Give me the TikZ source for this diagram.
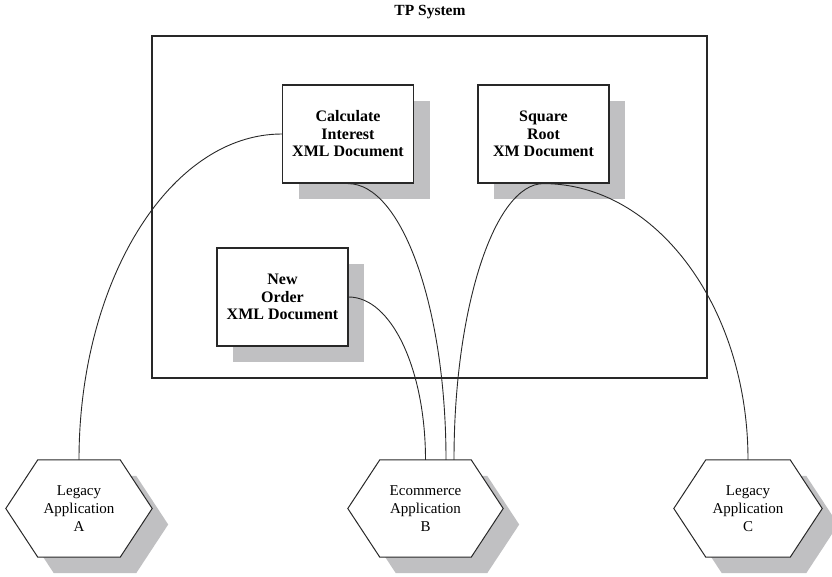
\documentclass[tikz,border=0pt]{standalone}
\usepackage{fontspec}
\setmainfont{Liberation Serif}
\usetikzlibrary{shadows,backgrounds,calc}
\definecolor{shadowgray}{RGB}{192,192,194}
\definecolor{linegray}{RGB}{40,40,40}
\tikzset{
  docbox/.style={draw=linegray, line width=1.2pt, fill=white,
    minimum width=131pt, minimum height=98pt, inner sep=0pt, align=center,
    font=\fontsize{16}{17.5}\selectfont\bfseries,
    drop shadow={shadow xshift=16pt, shadow yshift=-16pt, fill=shadowgray, opacity=1}},
  appnode/.style={minimum height=97pt, inner sep=0pt, align=center,
    font=\fontsize{15}{18}\selectfont},
  hexshape/.style={draw=linegray, line width=1pt, fill=white},
  hexshadow/.style={fill=shadowgray},
  link/.style={draw=linegray, line width=0.9pt},
  frame/.style={draw=linegray, line width=1.1pt, minimum width=555pt,
    minimum height=342pt, inner sep=0pt},
  titletext/.style={font=\fontsize{15.5}{17}\selectfont\bfseries},
}
\newcommand\apphex[1]{%
  \fill[hexshadow] ($(#1.west)+(16,16)$) -- ($(#1.north west)+(48,16)$)
    -- ($(#1.north east)+(-16,16)$) -- ($(#1.east)+(16,16)$)
    -- ($(#1.south east)+(-16,16)$) -- ($(#1.south west)+(48,16)$) -- cycle;
  \filldraw[hexshape] (#1.west) -- ($(#1.north west)+(32,0)$)
    -- ($(#1.north east)+(-32,0)$) -- (#1.east)
    -- ($(#1.south east)+(-32,0)$) -- ($(#1.south west)+(32,0)$) -- cycle;
}
\begin{document}
\begin{tikzpicture}[x=1pt,y=-1pt]
  \useasboundingbox (0,0) rectangle (832,576);
  \node[titletext] (title) at (430,12) {TP System};
  \node[frame] (tp) at (429.5,207) {};
  \node[docbox] (calc) at (348,134) {Calculate\\Interest\\XML Document};
  \node[docbox] (sqrt) at (543.5,134) {Square\\Root\\XM Document};
  \node[docbox] (order) at (282.5,297) {New\\Order\\XML Document};
  \node[appnode, minimum width=146pt] (ha) at (79,508.5) {Legacy\\Application\\A};
  \node[appnode, minimum width=155pt] (hb) at (425.5,508.5) {Ecommerce\\Application\\B};
  \node[appnode, minimum width=148pt] (hc) at (748,508.5) {Legacy\\Application\\C};
  \begin{pgfonlayer}{background}
    \apphex{ha}
    \apphex{hb}
    \apphex{hc}
  \end{pgfonlayer}
  \coordinate (hbm) at ($(hb.north)+(20.5,0)$);
  \coordinate (hbr) at ($(hb.north)+(28.5,0)$);
  \draw[link] (calc.west) .. controls +(-112,0) and +(0,-179) .. (ha.north);
  \draw[link] (calc.south) .. controls +(54,0) and +(0,-152) .. (hbm);
  \draw[link] (order.east) .. controls +(43,0) and +(0,-90) .. (hb.north);
  \draw[link] (sqrt.south) .. controls +(-49,0) and +(0,-152) .. (hbr);
  \draw[link] (sqrt.south) .. controls +(113,0) and +(0,-152) .. (hc.north);
\end{tikzpicture}
\end{document}
